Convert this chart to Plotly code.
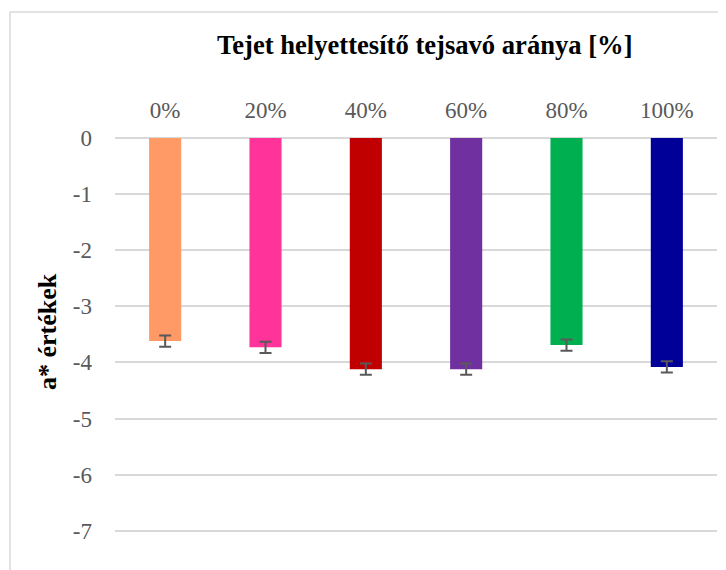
import plotly.graph_objects as go

# data
categories = ['0%', '20%', '40%', '60%', '80%', '100%']
a_values = [-3.62, -3.73, -4.12, -4.12, -3.69, -4.08]
a_errors = [0.10, 0.10, 0.10, 0.10, 0.10, 0.10]
bar_colors = ['#FF9966', '#FF3399', '#C00000', '#7030A0', '#00B050', '#000099']
y_ticks = [0, -1, -2, -3, -4, -5, -6, -7]
y_tick_labels = ['0', '-1', '-2', '-3', '-4', '-5', '-6', '-7']

fig = go.Figure()
fig.add_trace(go.Bar(
    x=categories, y=a_values,
    marker=dict(color=bar_colors, line=dict(width=0)),
    width=0.32,
    error_y=dict(type='data', array=a_errors, visible=True,
                 color='#595959', thickness=2, width=6),
    showlegend=False))

serif = 'Liberation Serif, Times New Roman, serif'

# page has an 8px body margin, so the figure is sized/offset for it
fig.update_layout(
    width=718, height=562,
    margin=dict(l=107, r=9, t=130, b=0),
    paper_bgcolor='white', plot_bgcolor='white',
    font=dict(family=serif, size=23, color='#595959'),
    xaxis=dict(side='top', showgrid=False, showline=False, ticks='',
               automargin=False, ticklabelstandoff=14,
               tickfont=dict(family=serif, size=23, color='#595959')),
    yaxis=dict(range=[-7.7, 0], tickvals=y_ticks, ticktext=y_tick_labels,
               showgrid=True, automargin=False,
               gridcolor='#D9D9D9', gridwidth=1.5, zeroline=True,
               zerolinecolor='#D9D9D9', zerolinewidth=1.5, showline=False,
               ticks='', ticklabelstandoff=22,
               tickfont=dict(family=serif, size=23, color='#595959')),
)

# title
fig.add_annotation(text='<b>Tejet helyettesítő tejsavó aránya [%]</b>',
                   xref='paper', yref='paper', x=(425 - 115) / 602, y=(570 - 45) / 432,
                   showarrow=False, xanchor='center', yanchor='middle',
                   font=dict(family=serif, size=26.6, color='black'))
# y axis title
fig.add_annotation(text='<b>a* értékek</b>', textangle=-90,
                   xref='paper', yref='paper', x=(47 - 115) / 602, y=(570 - 332) / 432,
                   showarrow=False, xanchor='center', yanchor='middle',
                   font=dict(family=serif, size=26, color='black'))
# chart frame
fig.add_shape(type='rect', xref='paper', yref='paper',
              x0=(10 - 115) / 602, x1=1.05, y0=-0.05, y1=(570 - 12) / 432,
              line=dict(color='#D9D9D9', width=1.5), layer='below')

fig.write_html("out.html")
